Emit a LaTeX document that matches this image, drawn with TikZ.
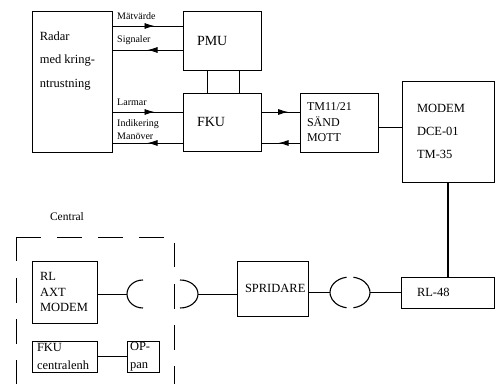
\documentclass[tikz,border=0pt]{standalone}
\usepackage{fontspec}
\setmainfont{Liberation Serif}
\usetikzlibrary{arrows.meta, decorations.markings}
\newcommand{\fsz}[2]{\fontsize{#1}{#2}\selectfont}

\begin{document}
\begin{tikzpicture}[
        x=1pt, y=1pt,
        box/.style={draw, rectangle, line width=0.8pt, inner ysep=0pt, align=left, font=\fsz{12.5}{15.5}},
        lbl/.style={inner sep=0pt, anchor=west, align=left, font=\fsz{10}{13}},
        link/.style={line width=0.8pt},
        midarrow/.style={link, postaction={decorate}, decoration={markings, mark=at position #1 with {\arrow{Latex[length=10pt,width=6pt]}}}},
        half/.style={line width=1.1pt},
        zone/.style={line width=0.8pt, dash pattern=on 24.5pt off 16.5pt}
    ]
    \useasboundingbox (0,0) rectangle (495,383);

    % Radarsidan
    \node[box, minimum height=141pt, text width=64pt, inner xsep=8pt,
          label={[inner sep=0pt, anchor=north west, align=left, font=\fsz{12.5}{23.5}, xshift=8pt, yshift=-21pt]north west:Radar\\med kring-\\ntrustning}] (radar) at (72,301.5) {};
    \node[box, font=\fsz{14}{16}, minimum height=59pt, text width=50pt, inner xsep=14pt] (pmu) at (222,342.5) {PMU};
    \node[box, font=\fsz{14}{16}, minimum height=58pt, text width=50pt, inner xsep=14pt] (fku) at (222,261) {FKU};
    \node[box, font=\fsz{12}{15.5}, minimum height=59pt, text width=64pt, inner xsep=7pt] (tm) at (339,260.5) {TM11/21\\SÄND\\MOTT};
    \node[box, font=\fsz{12.5}{23}, minimum height=101pt, text width=62pt, inner xsep=15pt] (modem) at (448,251.5) {MODEM\\DCE-01\\TM-35};

    % Signalnamn
    \node[lbl] (matv) at (117,367) {Mätvärde};
    \node[lbl] (sign) at (117,343) {Signaler};
    \node[lbl] (larm) at (117,281) {Larmar};
    \node[lbl] (indik) at (117,253.5) {Indikering\\Manöver};

    % Länk och central
    \node[box, minimum height=55pt, text width=55pt, inner xsep=8pt] (spridare) at (272.5,94.5) {SPRIDARE};
    \node[box, minimum height=31pt, text width=61pt, inner xsep=16pt] (rl48) at (447.5,90.5) {RL-48};
    \node[font=\fsz{11.5}{14}] (central) at (67,166) {Central};
    \node[box, minimum height=62pt, text width=49pt, inner xsep=8pt] (rlaxt) at (64.5,91) {RL\\AXT\\MODEM};
    \node[box, font=\fsz{12.5}{18}, minimum height=31pt, text width=55pt, inner xsep=5pt] (fkuc) at (64.5,26.5) {FKU\\centralenh};
    \node[box, font=\fsz{12.5}{18}, minimum height=31pt, text width=26pt, inner xsep=3pt] (oppan) at (143,26.5) {OP-\\pan};

    % Central-gräns
    \draw[zone] (16,146) -- (16,-20);
    \draw[zone] (16,146) -- (174,146) -- (174,-20);

    % Förbindelser
    \draw[midarrow=0.6] (radar.east |- 0,357) -- (pmu.west |- 0,357);
    \draw[midarrow=0.5] (pmu.west |- 0,333) -- (radar.east |- 0,333);
    \draw[midarrow=0.6] (radar.east |- 0,271) -- (fku.west |- 0,271);
    \draw[midarrow=0.5] (fku.west |- 0,240) -- (radar.east |- 0,240);
    \draw[link] (pmu.south -| 207,0) -- (fku.north -| 207,0);
    \draw[link] (pmu.south -| 239,0) -- (fku.north -| 239,0);
    \draw[midarrow=0.7] (fku.east |- 0,271) -- (tm.west |- 0,271);
    \draw[midarrow=0.55] (tm.west |- 0,240) -- (fku.east |- 0,240);
    \draw[link] (tm.east |- 0,256) -- (modem.west |- 0,256);
    \draw[half] (modem.south) -- (rl48.north -| modem.south);
    \draw[link] (fkuc.east) -- (oppan.west);

    % Kontaktdon
    \coordinate (cl) at (143,89);
    \coordinate (cr) at (180,89);
    \coordinate (sp) at (350,90.5);
    \draw[half] (cl) ++(0,14) arc[start angle=90, end angle=270, x radius=16pt, y radius=14pt];
    \draw[half] (cr) ++(0,-14) arc[start angle=-90, end angle=90, x radius=18pt, y radius=14pt];
    \draw[half] (sp) ++(100:20pt and 15.5pt) arc[start angle=100, end angle=260, x radius=20pt, y radius=15.5pt];
    \draw[half] (sp) ++(-80:20pt and 15.5pt) arc[start angle=-80, end angle=80, x radius=20pt, y radius=15.5pt];
    \draw[link] (rlaxt.east |- cl) -- ([xshift=-16pt]cl);
    \draw[link] ([xshift=18pt]cr) -- (spridare.west |- cr);
    \draw[link] (spridare.east |- sp) -- ([xshift=-20pt]sp);
    \draw[link] ([xshift=20pt]sp) -- (rl48.west |- sp);
\end{tikzpicture}
\end{document}
